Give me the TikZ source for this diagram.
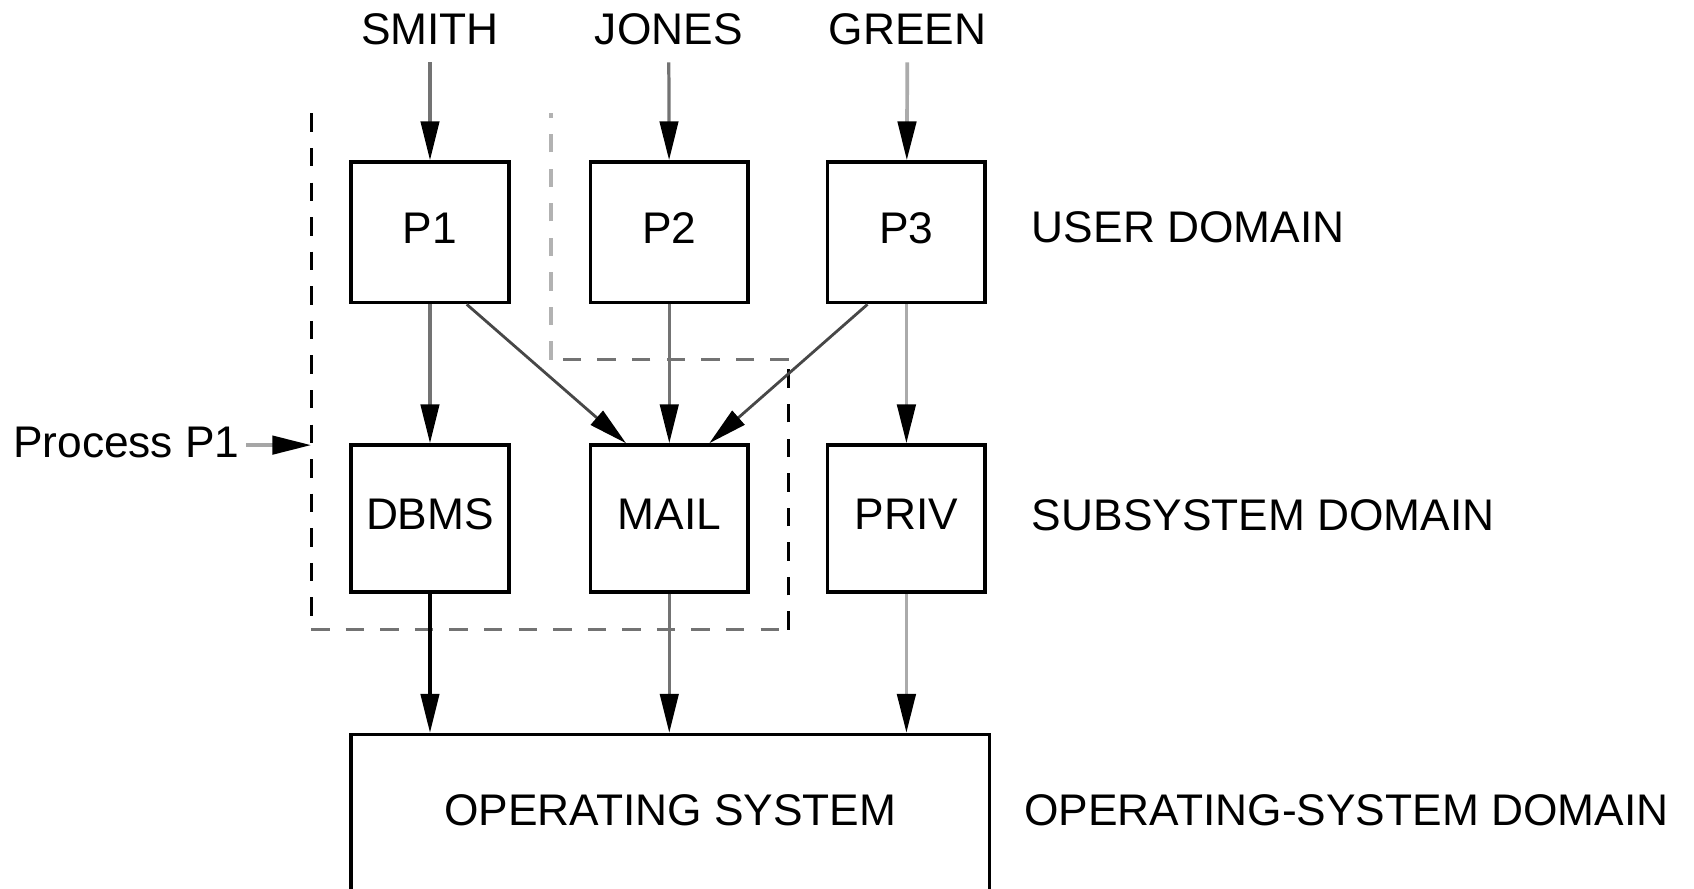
\documentclass[tikz,border=0pt]{standalone}
\usepackage{fontspec}
\setmainfont{Liberation Sans}
\usetikzlibrary{arrows.meta}

\tikzset{
  every node/.style={font=\fontsize{41}{49}\selectfont},
  txt/.style={inner sep=0pt},
  procbox/.style={draw, line width=3.4pt, minimum width=146pt, inner sep=0pt, text depth=8pt},
  userbox/.style={procbox, minimum height=130pt},
  subbox/.style={procbox, minimum height=136pt},
  conn/.style={line width=3pt, -{Triangle[length=36pt,width=17pt,color=black]}},
  darkconn/.style={conn, draw=black!55},
  lightconn/.style={conn, draw=black!33, line width=3.4pt},
  diagconn/.style={conn, draw=black!72, line width=2.6pt},
  blackconn/.style={conn, draw=black},
  regionline/.style={line width=3pt, dash pattern=on 17pt off 15pt},
}

\begin{document}
\begin{tikzpicture}[x=1pt, y=-1pt]
  \useasboundingbox (0,0) rectangle (1568,822);

  % users
  \node[txt] (smith) at (398,27) {SMITH};
  \node[txt] (jones) at (619,27) {JONES};
  \node[txt] (green) at (840,27) {GREEN};

  % user domain processes
  \node[userbox] (p1) at (398,215) {P1};
  \node[userbox] (p2) at (619.5,215) {P2};
  \node[userbox] (p3) at (839,215) {P3};

  % subsystems
  \node[subbox] (dbms) at (398,480) {DBMS};
  \node[subbox] (mail) at (619.5,480) {MAIL};
  \node[subbox] (priv) at (839,480) {PRIV};

  % operating system (runs past the lower edge)
  \node[draw, line width=3.4pt, minimum width=591pt, minimum height=150pt, inner sep=0pt, text depth=10pt]
    (os) at (620.5,755) {OPERATING SYSTEM};

  % domain labels
  \node[txt, anchor=west] (userdom) at (955,210) {USER DOMAIN};
  \node[txt, anchor=west] (subdom) at (955,477) {SUBSYSTEM DOMAIN};
  \node[txt, anchor=west] (osdom) at (948,750) {OPERATING-SYSTEM DOMAIN};

  % outline of process P1
  \draw[regionline, black] (288,105) -- (288,583);
  \draw[regionline, black!55] (288,583) -- (730,583);
  \draw[regionline, black] (730,583) -- (730,333);
  \draw[regionline, black!55] (730,333) -- (510,333);
  \draw[regionline, black!30, line width=3.4pt] (510,333) -- (510,105);
  \coordinate (regionedge) at (288,412);

  \node[txt, anchor=east] (procp1) at (222,410) {Process P1};
  \draw[conn, draw=black!35, line width=3.4pt, shorten <=6pt] (procp1.east |- regionedge) -- (regionedge);

  % users to processes
  \draw[darkconn, shorten <=16pt] (smith) -- (p1);
  \draw[darkconn, shorten <=16pt] (jones) -- (p2);
  \draw[lightconn, shorten <=16pt] (green) -- (p3);

  % processes to subsystems
  \draw[darkconn] (p1) -- (dbms);
  \draw[darkconn] (p2) -- (mail);
  \draw[lightconn] (p3) -- (priv);
  \draw[diagconn] ([xshift=34pt]p1.south) -- ([xshift=-40pt]mail.north);
  \draw[diagconn] ([xshift=-36pt]p3.south) -- ([xshift=37pt]mail.north);

  % subsystems to operating system
  \draw[blackconn] (dbms.south) -- (dbms.south |- os.north);
  \draw[darkconn] (mail.south) -- (mail.south |- os.north);
  \draw[lightconn] (priv.south) -- (priv.south |- os.north);
\end{tikzpicture}
\end{document}
